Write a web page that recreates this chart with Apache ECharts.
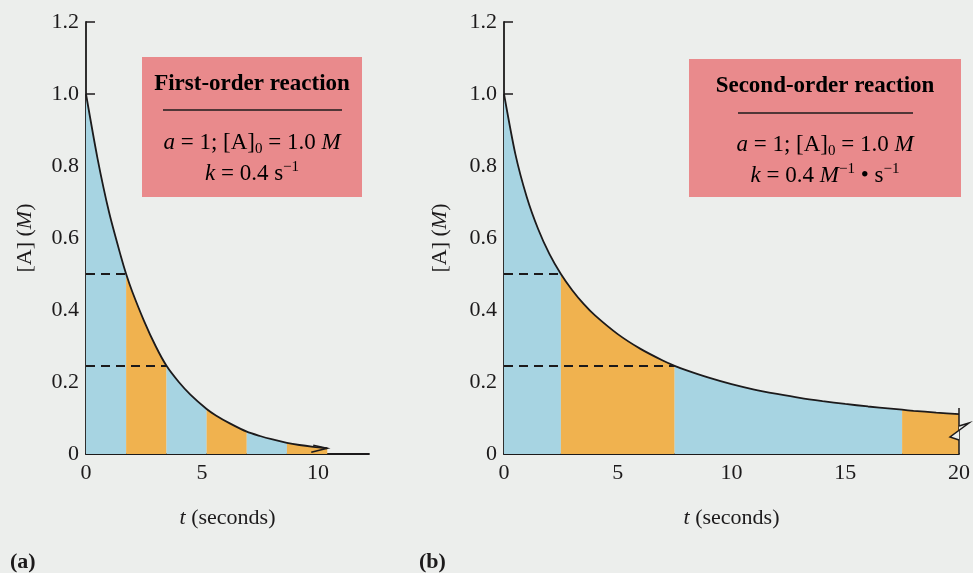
<!DOCTYPE html>
<html>
<head>
<meta charset="utf-8">
<script src="https://cdn.jsdelivr.net/npm/echarts@6/dist/echarts.min.js"></script>
<style>
html, body { margin: 0; padding: 0; background: #eceeec; }
#chart { width: 973px; height: 573px; }
</style>
</head>
<body>
<div id="chart"></div>
<script>
// (a) first-order: [A] vs t
const firstT = [0, 0.5, 1.0, 1.5, 1.73, 2.0, 2.5, 3.0, 3.47, 4.0, 4.5, 5.2, 5.6, 6.2, 6.93, 7.5, 8.0, 8.66, 9.2, 9.8, 10.4];
const firstA = [1.00, 0.82, 0.67, 0.55, 0.50, 0.45, 0.37, 0.30, 0.245, 0.20, 0.165, 0.125, 0.107, 0.085, 0.062, 0.050, 0.041, 0.031, 0.025, 0.020, 0.016];
const firstBounds = [0, 1.73, 3.47, 5.2, 6.93, 8.66, 10.4];
const firstHalf = [[1.73, 0.5], [3.47, 0.245]];

// (b) second-order: [A] vs t
const secondT = [0, 0.5, 1, 1.5, 2, 2.5, 3, 3.5, 4, 5, 6, 7, 7.5, 8, 9, 10, 11, 12, 13, 14, 15, 16, 17, 17.5, 18, 19, 20];
const secondA = [1.00, 0.833, 0.714, 0.625, 0.555, 0.50, 0.455, 0.417, 0.385, 0.333, 0.292, 0.259, 0.245, 0.233, 0.212, 0.194, 0.179, 0.167, 0.156, 0.147, 0.139, 0.132, 0.126, 0.123, 0.12, 0.115, 0.111];
const secondBounds = [0, 2.5, 7.5, 17.5, 20];
const secondHalf = [[2.5, 0.5], [7.5, 0.245]];

const xLabelsA = [0, 5, 10];
const xLabelsB = [0, 5, 10, 15, 20];

const ink = '#1c1a1b';
const blue = '#a7d4e2';
const orange = '#f0b24f';
const pink = '#e98a8c';
const font = 'Liberation Serif';

const chart = echarts.init(document.getElementById('chart'));

function zip(ts, as) {
    return ts.map((t, i) => [t, as[i]]);
}

// 按半衰期分段填色
function segmentSeries(points, bounds, axisIdx) {
    const list = [];
    for (let i = 0; i < bounds.length - 1; i++) {
        list.push({
            type: 'line',
            xAxisIndex: axisIdx,
            yAxisIndex: axisIdx,
            data: points.filter(p => p[0] >= bounds[i] - 1e-9 && p[0] <= bounds[i + 1] + 1e-9),
            symbol: 'none',
            smooth: 0.25,
            lineStyle: { width: 0 },
            areaStyle: { color: i % 2 === 0 ? blue : orange, opacity: 1 },
            silent: true,
            z: 1
        });
    }
    return list;
}

function curveSeries(points, half, axisIdx) {
    return {
        type: 'line',
        xAxisIndex: axisIdx,
        yAxisIndex: axisIdx,
        data: points,
        symbol: 'none',
        smooth: 0.25,
        lineStyle: { color: ink, width: 1.8 },
        silent: true,
        z: 3,
        markLine: {
            silent: true,
            symbol: 'none',
            label: { show: false },
            lineStyle: { color: ink, width: 2, type: [9, 6] },
            data: half.map(h => [{ coord: [0, h[1]] }, { coord: [h[0], h[1]] }])
        }
    };
}

function xAxisOf(idx, max, labels) {
    return {
        type: 'value',
        gridIndex: idx,
        min: 0,
        max: max,
        interval: 5,
        name: '{i|t} (seconds)',
        nameLocation: 'middle',
        nameGap: 53,
        nameTextStyle: {
            fontFamily: font, fontSize: 22, color: ink,
            rich: { i: { fontFamily: font, fontSize: 22, fontStyle: 'italic', color: ink } }
        },
        axisLine: { lineStyle: { color: ink, width: 1.8 } },
        axisTick: { inside: true, length: 8, customValues: labels.filter(v => v > 0 && v < 20), lineStyle: { color: ink, width: 1.5 } },
        axisLabel: { customValues: labels, margin: 8, fontFamily: font, fontSize: 22, color: ink },
        splitLine: { show: false }
    };
}

function yAxisOf(idx, gap) {
    return {
        type: 'value',
        gridIndex: idx,
        min: 0,
        max: 1.2,
        interval: 0.2,
        name: '[A] ({i|M})',
        nameLocation: 'middle',
        nameGap: gap,
        nameTextStyle: {
            fontFamily: font, fontSize: 22, color: ink,
            rich: { i: { fontFamily: font, fontSize: 22, fontStyle: 'italic', color: ink } }
        },
        axisLine: { lineStyle: { color: ink, width: 1.8 } },
        axisTick: { inside: true, length: 9, lineStyle: { color: ink, width: 1.5 } },
        axisLabel: {
            margin: 7, fontFamily: font, fontSize: 22, color: ink,
            formatter: v => (v === 0 ? '0' : v.toFixed(1))
        },
        splitLine: { show: false }
    };
}

// 断轴符号
function breakLeft(params, api) {
    const p = api.coord([api.value(0), api.value(1)]);
    return {
        type: 'polyline',
        shape: { points: [[p[0] - 14, p[1] - 3], [p[0], p[1]], [p[0] - 16, p[1] + 4]] },
        style: { stroke: ink, fill: 'none', lineWidth: 1.5 }
    };
}

function breakRight(params, api) {
    const b = api.coord([api.value(0), 0]);
    const top = api.coord([api.value(0), api.value(1)]);
    return {
        type: 'group',
        children: [
            { type: 'line', shape: { x1: b[0], y1: b[1], x2: top[0], y2: top[1] }, style: { stroke: ink, lineWidth: 1.5 } },
            {
                type: 'polyline',
                shape: { points: [[b[0], b[1] - 28], [b[0] + 10, b[1] - 31], [b[0] - 9, b[1] - 17], [b[0], b[1] - 14]] },
                style: { stroke: ink, fill: '#eceeec', lineWidth: 1.5 }
            }
        ]
    };
}

const boxRich = {
    t: { fontFamily: font, fontSize: 23, fontWeight: 'bold', color: ink },
    n: { fontFamily: font, fontSize: 23, color: ink },
    i: { fontFamily: font, fontSize: 23, fontStyle: 'italic', color: ink },
    sub: { fontFamily: font, fontSize: 15, color: ink, verticalAlign: 'bottom', lineHeight: 28 },
    sup: { fontFamily: font, fontSize: 15, color: ink, verticalAlign: 'top', lineHeight: 28 }
};

function textAt(x, y, text, rich) {
    return {
        type: 'text', x: x, y: y, silent: true,
        style: { text: text, rich: rich, align: 'center', verticalAlign: 'middle' }
    };
}

function box(x, y, w, h, lineX1, lineX2, lineY, title, l1, l2) {
    return [
        { type: 'rect', shape: { x: x, y: y, width: w, height: h }, style: { fill: pink }, silent: true },
        { type: 'line', shape: { x1: lineX1, y1: lineY, x2: lineX2, y2: lineY }, style: { stroke: ink, lineWidth: 1.4 }, silent: true },
        textAt(x + w / 2, y + 27, '{t|' + title + '}', boxRich),
        textAt(x + w / 2, y + 86, l1, boxRich),
        textAt(x + w / 2, y + 117, l2, boxRich)
    ];
}

const option = {
    backgroundColor: '#eceeec',
    animation: false,
    grid: [
        { left: 86, top: 22, width: 283, height: 432 },
        { left: 504, top: 22, width: 458, height: 432 }
    ],
    xAxis: [xAxisOf(0, 12.2, xLabelsA), xAxisOf(1, 20, xLabelsB)],
    yAxis: [yAxisOf(0, 50), yAxisOf(1, 53)],
    series: [
        ...segmentSeries(zip(firstT, firstA), firstBounds, 0),
        ...segmentSeries(zip(secondT, secondA), secondBounds, 1),
        curveSeries(zip(firstT, firstA), firstHalf, 0),
        curveSeries(zip(secondT, secondA), secondHalf, 1),
        {
            type: 'custom', xAxisIndex: 0, yAxisIndex: 0, silent: true, z: 4,
            data: [[firstT[firstT.length - 1], firstA[firstA.length - 1]]],
            renderItem: breakLeft
        },
        {
            type: 'custom', xAxisIndex: 1, yAxisIndex: 1, silent: true, z: 4,
            data: [[20, 0.128]],
            renderItem: breakRight
        }
    ],
    graphic: [
        ...box(142, 57, 220, 140, 163, 342, 110, 'First-order reaction',
            '{i|a}{n| = 1; [A]}{sub|0}{n| = 1.0 }{i|M}',
            '{i|k}{n| = 0.4 s}{sup|−1}'),
        ...box(689, 59, 272, 138, 738, 913, 113, 'Second-order reaction',
            '{i|a}{n| = 1; [A]}{sub|0}{n| = 1.0 }{i|M}',
            '{i|k}{n| = 0.4 }{i|M}{sup|−1}{n| • s}{sup|−1}'),
        {
            type: 'text', x: 10, y: 562, silent: true,
            style: { text: '(a)', fontFamily: font, fontSize: 22, fontWeight: 'bold', fill: ink, verticalAlign: 'middle' }
        },
        {
            type: 'text', x: 419, y: 562, silent: true,
            style: { text: '(b)', fontFamily: font, fontSize: 22, fontWeight: 'bold', fill: ink, verticalAlign: 'middle' }
        }
    ]
};

chart.setOption(option);
</script>
</body>
</html>
